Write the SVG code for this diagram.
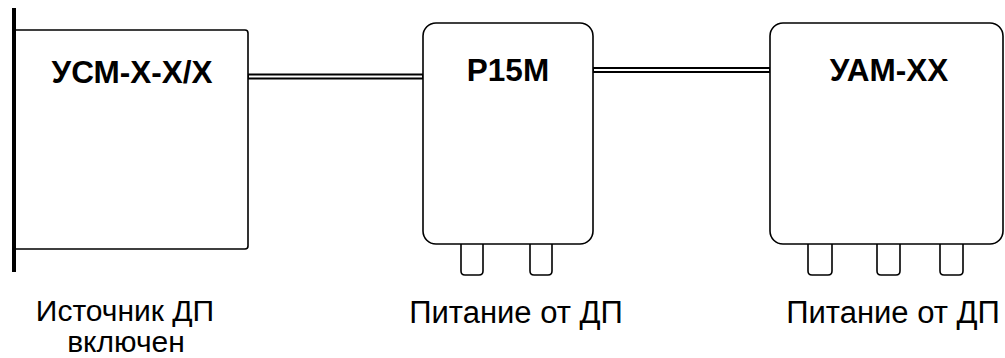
<svg xmlns="http://www.w3.org/2000/svg" width="1005" height="358" viewBox="0 0 1005 358">
<style>
.box{fill:#fff;stroke:#000;stroke-width:1.6}
.foot{fill:#fff;stroke:#000;stroke-width:1.6}
.title{font-family:"Liberation Sans",Arial,sans-serif;font-weight:bold;font-size:31.5px;text-anchor:middle;fill:#000}
.lbl{font-family:"Liberation Sans",Arial,sans-serif;font-size:31px;text-anchor:middle;fill:#000}
.wo{stroke:#000;stroke-width:6;fill:none}
.wi{stroke:#fff;stroke-width:2;fill:none}
</style>
<rect width="1005" height="358" fill="#fff"/>
<g id="connectors">
<line class="wo" x1="248" y1="76.5" x2="423" y2="76.5"/>
<line class="wi" x1="249" y1="76.5" x2="422" y2="76.5"/>
<line class="wo" x1="593" y1="70" x2="770" y2="70"/>
<line class="wi" x1="594" y1="70" x2="769" y2="70"/>
</g>
<g id="usm">
<path class="box" d="M14,30 H245 Q248,30 248,33 V246 Q248,249 245,249 H14"/>
<line x1="14" y1="8" x2="14" y2="272" stroke="#000" stroke-width="4"/>
<text class="title" x="132" y="83">УСМ-Х-Х/Х</text>
<text class="lbl" style="font-size:30px" x="125" y="321">Источник ДП<tspan x="126" dy="30.5">включен</tspan></text>
</g>
<g id="p15m">
<path class="foot" d="M461,244 V271 Q461,275 465,275 H479 Q483,275 483,271 V244"/>
<path class="foot" d="M530,244 V271 Q530,275 534,275 H548 Q552,275 552,271 V244"/>
<rect class="box" x="423" y="23" width="170" height="221" rx="13"/>
<text class="title" x="508" y="81">Р15М</text>
<text class="lbl" x="516" y="323">Питание от ДП</text>
</g>
<g id="uam">
<path class="foot" d="M808,244 V271 Q808,275 812,275 H828 Q832,275 832,271 V244"/>
<path class="foot" d="M877,244 V271 Q877,275 881,275 H896 Q900,275 900,271 V244"/>
<path class="foot" d="M940,244 V271 Q940,275 944,275 H959 Q963,275 963,271 V244"/>
<rect class="box" x="770" y="23" width="233" height="221" rx="13"/>
<text class="title" x="889" y="81">УАМ-ХХ</text>
<text class="lbl" x="893" y="323">Питание от ДП</text>
</g>
</svg>
